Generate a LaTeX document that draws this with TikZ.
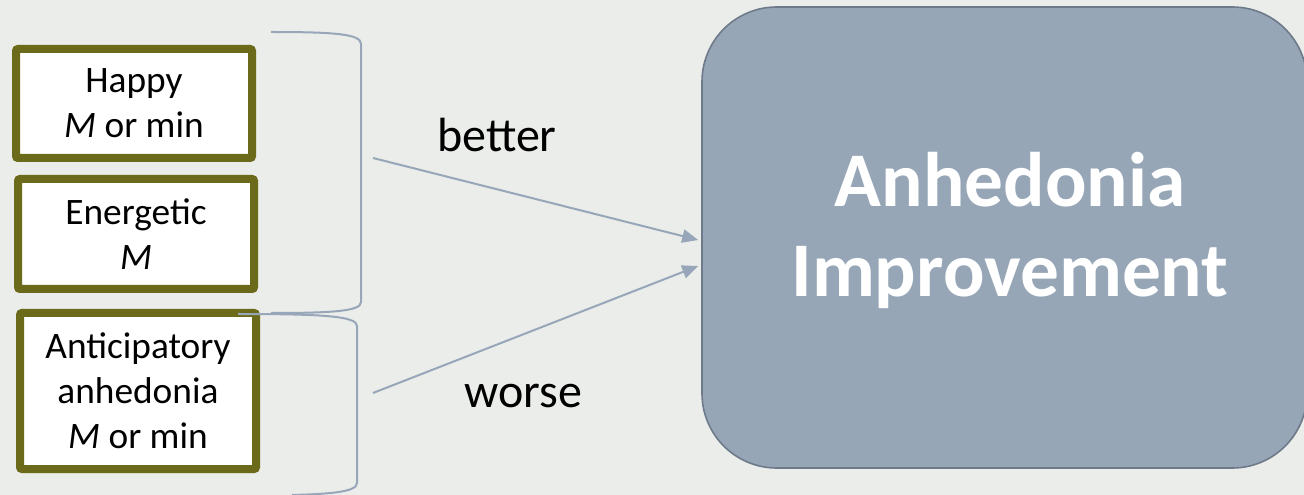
\documentclass[tikz,border=0pt]{standalone}
\usepackage{fontspec}
\setmainfont{Carlito}
\usetikzlibrary{arrows.meta,calc}

\definecolor{slidebg}{RGB}{235,237,234}
\definecolor{olivebox}{RGB}{107,106,26}
\definecolor{bluegrey}{RGB}{151,166,184}
\definecolor{outcomefill}{RGB}{151,166,182}
\definecolor{outcomeline}{RGB}{110,122,138}

\tikzset{
  predictor/.style={draw=olivebox, line width=6pt, fill=white, rounded corners=1.5pt,
    minimum width=177pt, inner sep=0pt, align=center,
    font=\fontsize{28}{33.75}\selectfont},
  outcomebox/.style={draw=outcomeline, line width=1.2pt, fill=outcomefill,
    rounded corners=56pt, minimum width=453.75pt, minimum height=345.75pt},
  outcometext/.style={text=white, align=center, inner sep=0pt,
    font=\fontsize{58}{67.5}\selectfont\bfseries},
  pathlabel/.style={anchor=base, inner sep=0pt, font=\fontsize{36}{43}\selectfont},
  brace/.style={draw=bluegrey, line width=1.5pt},
  effect/.style={draw=bluegrey, line width=1.5pt, -{Triangle[length=12pt,width=10pt]}}
}

\begin{document}
\begin{tikzpicture}[x=0.75pt,y=0.75pt,yscale=-1,xscale=1]
\fill[slidebg] (0,0) rectangle (1304,495);
\useasboundingbox (0,0) rectangle (1304,495);

%Shape: Predictor boxes
\node[predictor, minimum height=81.75pt] (happy) at (134,103.5) {Happy\\\textit{M} or min};
\node[predictor, minimum height=82.5pt] (energetic) at (136,234) {Energetic\\\textit{M}};
\node[predictor, minimum height=117pt] (anticipatory) at (138,391) {Anticipatory\\anhedonia\\\textit{M} or min};

%Shape: Outcome box
\node[outcomebox] (outcome) at (1004.5,237.5) {};
% Text Node
\node[outcometext] (outcometitle) at (1010,230) {Anhedonia\\Improvement};

%Shape: Brace round the positive predictors
\draw[brace] (271,32) .. controls (335,32) and (361,34) .. (361,44) -- (361,302) .. controls (361,311) and (335,313) .. (271,313) ;
%Shape: Brace round the negative predictor
\draw[brace] (238,314) .. controls (322,314) and (357,316) .. (357,326) -- (357,483) .. controls (357,492) and (330,494) .. (292,495) ;

\coordinate (bettertail) at (373,158);
\coordinate (worsetail) at (373,393);

%Straight Lines
\draw[effect] (bettertail) -- ($(outcome.west)+(-3,2.5)$) ;
\draw[effect] (worsetail) -- ($(outcome.west)+(-3,28.5)$) ;

% Text Node
\node[pathlabel] (betterlabel) at (497,152) {better};
% Text Node
\node[pathlabel] (worselabel) at (523,407) {worse};

\end{tikzpicture}
\end{document}
